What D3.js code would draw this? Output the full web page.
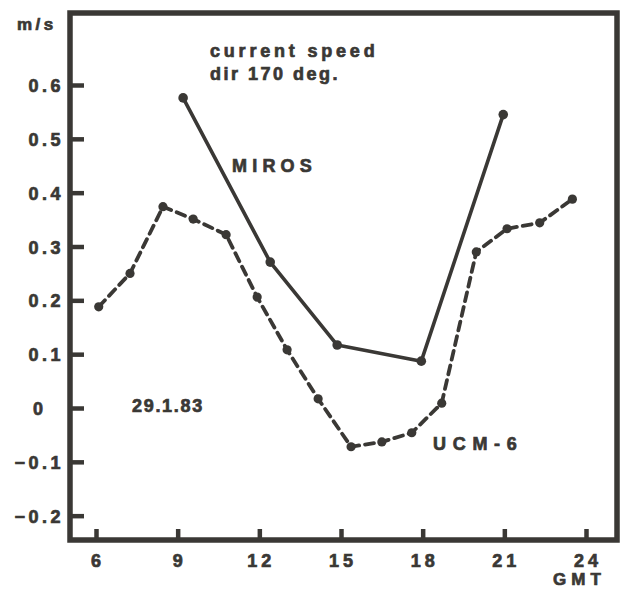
<!DOCTYPE html>
<html lang="en">
<head>
  <meta charset="UTF-8" />
  <title>current speed</title>
  <script src="https://d3js.org/d3.v7.min.js"></script>
  <style>
    body{margin:0;background:#fff}
    svg text{font-family:"Liberation Sans",Arial,sans-serif;font-weight:700;fill:#3a3835;stroke:#3a3835;stroke-width:.7px;font-size:18px}
  </style>
</head>
<body>
  <div id="chart"></div>
  <script>
    const INK = "#3a3835";

    // GMT hour, m/s
    const mirosHours = [9.2, 12.4, 14.86, 17.95, 20.96];
    const mirosSpeed = [0.576, 0.271, 0.117, 0.087, 0.545];

    const ucmHours = [6.1, 7.25, 8.46, 9.57, 10.78, 11.92, 13.02, 14.16, 15.37, 16.5, 17.6, 18.7, 19.97, 21.1, 22.3, 23.5];
    const ucmSpeed = [0.188, 0.25, 0.374, 0.351, 0.322, 0.206, 0.108, 0.017, -0.072, -0.063, -0.046, 0.009, 0.29, 0.333, 0.344, 0.388];

    const xTicks = [6, 9, 12, 15, 18, 21, 24];
    const yTicks = [-0.2, -0.1, 0, 0.1, 0.2, 0.3, 0.4, 0.5, 0.6];

    const miros = mirosHours.map((h, i) => ({h, v: mirosSpeed[i]}));
    const ucm = ucmHours.map((h, i) => ({h, v: ucmSpeed[i]}));

    const W = 628, H = 589;
    const L = 70, R = 617, T = 13, B = 540;

    const svg = d3.select("#chart").append("svg").attr("width", W).attr("height", H);

    const x = d3.scaleLinear().domain([6, 24]).range([96, 586]);
    const y = d3.scaleLinear().domain([0, 0.6]).range([408, 85]);

    // frame
    svg.append("rect").attr("x", L).attr("y", T).attr("width", R - L).attr("height", B - T)
      .attr("fill", "none").attr("stroke", INK).attr("stroke-width", 5.5);

    // inward ticks
    const yAxis = svg.append("g").attr("transform", `translate(${L},0)`)
      .call(d3.axisRight(y).tickValues(yTicks).tickSize(14).tickFormat(""));
    yAxis.select(".domain").remove();
    yAxis.selectAll("line").attr("stroke", INK).attr("stroke-width", 4.5);

    const xAxis = svg.append("g").attr("transform", `translate(0,${B})`)
      .call(d3.axisTop(x).tickValues(xTicks).tickSize(11).tickFormat(""));
    xAxis.select(".domain").remove();
    xAxis.selectAll("line").attr("stroke", INK).attr("stroke-width", 4.5);

    // tick labels
    svg.append("g").selectAll("text").data(yTicks).join("text")
      .attr("x", d => d === 0 ? 38 : 64).attr("y", d => y(d) + 7)
      .attr("text-anchor", d => d === 0 ? "middle" : "end")
      .style("letter-spacing", d => d === 0 ? "0px" : "3.5px")
      .text(d => d === 0 ? "0" : d3.format(".1f")(d));

    svg.append("g").selectAll("text").data(xTicks).join("text")
      .attr("x", d => x(d) + 2).attr("y", 567)
      .attr("text-anchor", "middle").style("letter-spacing", "4px")
      .text(d => d);

    svg.append("text").attr("x", 553).attr("y", 585).style("font-size", "17px")
      .style("letter-spacing", "5px").text("GMT");
    svg.append("text").attr("x", 17).attr("y", 30).style("font-size", "17px")
      .style("letter-spacing", "3.5px").text("m/s");

    // annotations
    svg.append("text").attr("x", 210).attr("y", 57).style("letter-spacing", "3.8px").text("current speed");
    svg.append("text").attr("x", 210).attr("y", 80).style("letter-spacing", "2.5px").text("dir 170 deg.");
    svg.append("text").attr("x", 232).attr("y", 172).style("letter-spacing", "5.2px").text("MIROS");
    svg.append("text").attr("x", 132).attr("y", 412).style("letter-spacing", "1.7px").text("29.1.83");
    svg.append("text").attr("x", 433).attr("y", 450).style("letter-spacing", "6.7px").text("UCM-6");

    const line = d3.line().x(d => x(d.h)).y(d => y(d.v));

    // MIROS, solid
    svg.append("path").datum(miros).attr("d", line).attr("fill", "none")
      .attr("stroke", INK).attr("stroke-width", 3.6).attr("stroke-linejoin", "round");
    svg.append("g").selectAll("circle").data(miros).join("circle")
      .attr("cx", d => x(d.h)).attr("cy", d => y(d.v)).attr("r", 4.8).attr("fill", INK);

    // UCM-6, dashed
    svg.append("path").datum(ucm).attr("d", line).attr("fill", "none")
      .attr("stroke", INK).attr("stroke-width", 3.8).attr("stroke-dasharray", "9,6")
      .attr("stroke-linecap", "round");
    svg.append("g").selectAll("circle").data(ucm).join("circle")
      .attr("cx", d => x(d.h)).attr("cy", d => y(d.v)).attr("r", 4.6).attr("fill", INK);
  </script>
</body>
</html>
